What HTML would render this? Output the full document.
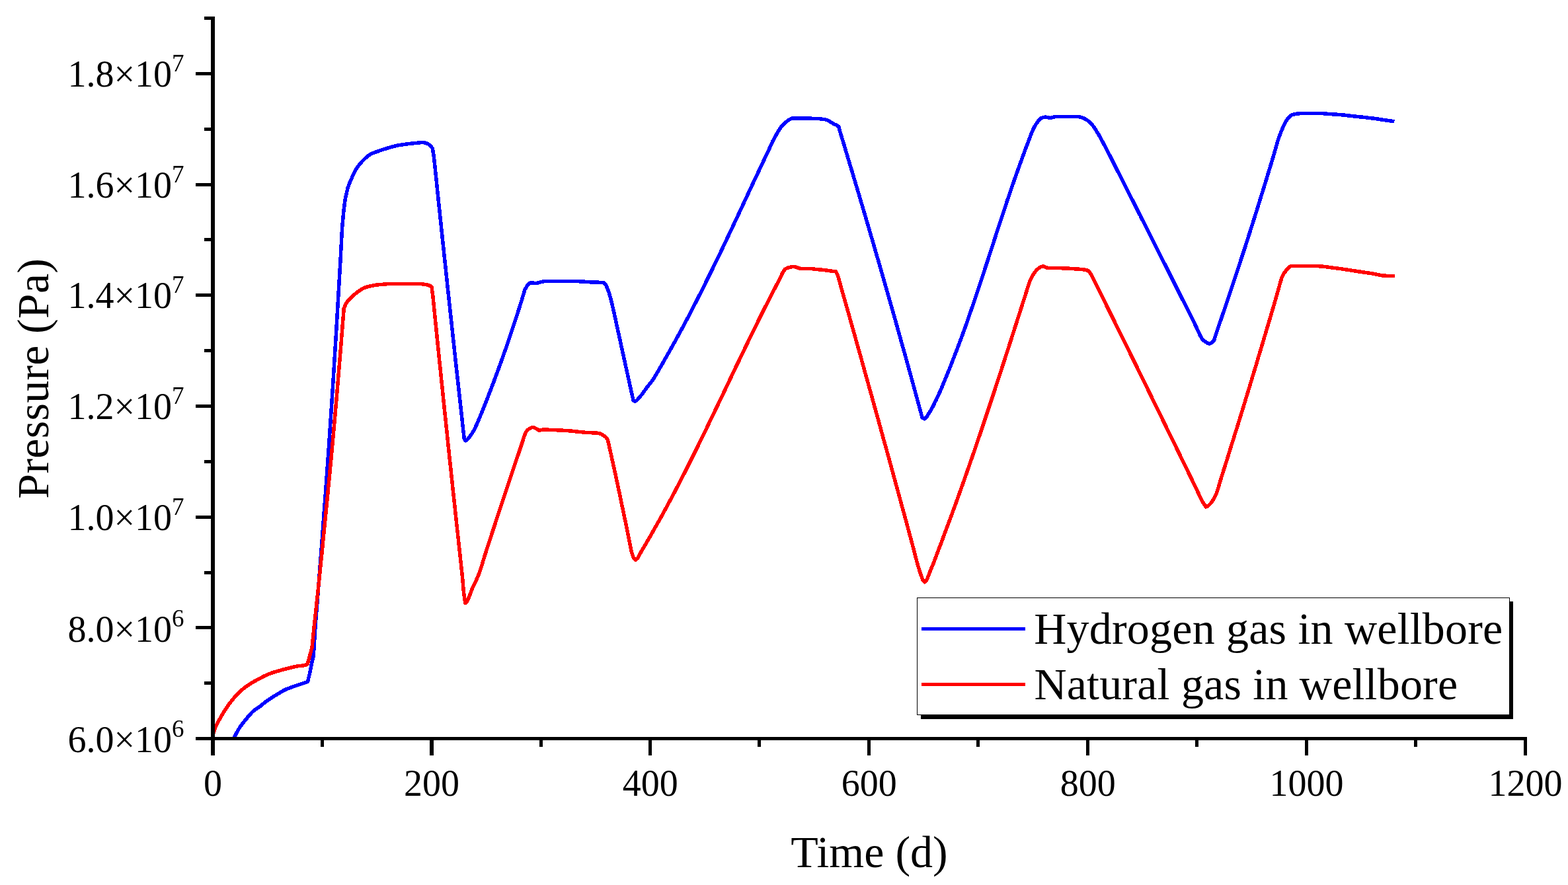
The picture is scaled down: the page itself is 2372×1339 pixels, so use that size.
<!DOCTYPE html>
<html lang="en"><head><meta charset="utf-8"><title>Pressure vs Time</title>
<style>
html,body{margin:0;padding:0;background:#fff;}
body{width:2372px;height:1339px;overflow:hidden;}
svg{display:block;}
text{font-family:"Liberation Serif","Times New Roman",serif;fill:#000;}
.tick{font-size:56px;}
.sup{font-size:37px;}
.title{font-size:68px;}
.leg{font-size:68px;}
</style></head><body>
<svg xmlns="http://www.w3.org/2000/svg" width="2372" height="1339" viewBox="0 0 2372 1339">
<rect x="0" y="0" width="2372" height="1339" fill="#fff"/>
<g fill="none" stroke-width="5.5" stroke-linejoin="round" stroke-linecap="butt" shape-rendering="crispEdges">
<polyline stroke="#0000ff" points="353.3,1119.0 354.8,1115.0 357.7,1109.0 360.6,1103.9 363.5,1099.4 366.8,1094.9 370.0,1090.8 373.3,1086.9 376.5,1083.0 379.8,1079.3 383.0,1076.1 386.2,1073.6 389.5,1071.5 392.7,1069.3 395.9,1066.7 399.2,1064.0 402.4,1061.5 405.6,1059.2 408.9,1057.0 412.1,1054.9 415.3,1052.9 418.6,1051.0 421.8,1049.1 425.0,1047.1 428.3,1045.2 431.5,1043.5 434.7,1042.1 438.0,1040.9 441.2,1039.7 444.4,1038.5 447.7,1037.4 450.9,1036.3 454.1,1035.2 457.4,1034.2 460.6,1033.1 463.1,1032.5 465.5,1031.4 468.4,1019.3 471.3,1004.7 473.7,995.0 474.5,987.7 477.4,942.2 479.5,916.9 480.8,900.0 483.6,864.0 486.4,827.5 489.1,790.4 491.9,752.7 494.7,714.2 497.5,675.0 499.7,641.8 502.0,607.5 504.5,568.0 508.2,509.0 511.7,450.0 515.0,393.6 517.7,343.0 520.0,318.1 522.3,300.9 526.2,283.8 529.2,276.0 532.1,269.5 534.6,263.6 537.1,258.5 539.9,254.0 542.8,250.1 545.6,246.7 548.4,243.6 551.2,240.7 554.0,238.2 557.4,235.4 560.8,233.2 563.5,231.9 566.2,230.8 569.0,229.9 571.7,228.9 574.9,227.8 578.0,226.7 581.2,225.7 584.4,224.7 587.2,223.8 590.0,223.0 592.8,222.2 595.7,221.4 598.5,220.7 601.3,220.1 604.1,219.6 606.9,219.1 609.7,218.7 612.5,218.3 615.3,217.9 618.1,217.6 621.3,217.2 624.5,216.9 627.6,216.6 630.8,216.3 633.9,216.0 637.0,215.7 640.1,215.6 642.6,215.9 645.2,216.8 647.7,218.0 651.0,220.1 654.4,224.7 656.6,239.1 658.8,260.2 661.0,281.3 662.2,293.0 662.9,300.0 666.1,330.0 670.0,367.5 673.5,400.0 677.2,435.0 678.8,450.0 682.5,483.8 686.1,517.5 689.6,549.6 693.1,581.5 696.6,612.8 700.0,643.9 702.3,664.2 704.4,666.7 707.7,664.4 711.0,660.0 714.0,655.8 717.0,650.8 719.5,645.7 722.1,640.0 726.1,630.5 729.2,623.1 732.2,615.5 735.3,607.8 738.3,600.0 741.2,592.5 744.1,585.0 747.5,576.1 750.8,567.0 753.8,559.0 756.7,550.9 759.7,542.8 762.6,534.5 765.6,526.1 768.5,517.5 771.8,507.8 775.1,498.0 778.5,487.8 781.8,477.5 785.2,467.0 787.8,458.6 790.5,450.0 794.1,437.9 798.6,430.4 801.2,428.5 803.7,427.6 806.9,428.1 810.0,428.5 812.8,428.2 815.6,427.5 818.3,426.7 821.1,426.0 823.9,425.7 826.9,425.7 829.9,425.7 832.8,425.7 835.8,425.7 838.8,425.7 841.8,425.7 844.7,425.7 847.7,425.7 850.7,425.7 853.7,425.7 856.6,425.7 859.6,425.7 862.6,425.7 865.6,425.7 868.5,425.7 871.5,425.7 874.5,425.7 877.5,425.8 880.4,425.9 883.4,426.1 886.3,426.4 889.2,426.6 892.2,426.8 895.3,426.9 898.3,427.0 901.4,427.1 904.5,427.2 907.6,427.3 910.6,427.5 913.7,427.8 916.2,430.4 918.8,436.1 921.3,443.0 923.9,452.1 926.6,463.2 930.1,478.7 933.6,494.9 937.1,510.7 940.5,526.5 944.2,543.2 947.9,560.0 950.7,572.6 953.5,585.3 958.0,605.5 960.3,607.4 962.8,606.2 965.4,603.5 967.9,600.5 970.8,597.1 973.6,593.2 976.4,589.2 979.3,585.3 982.0,581.9 984.7,578.6 987.4,575.0 990.4,570.3 993.4,565.2 996.4,560.0 999.2,555.1 1002.1,550.2 1004.9,545.2 1007.8,540.2 1010.6,535.2 1013.5,530.2 1016.3,525.1 1019.2,520.0 1022.6,513.8 1026.1,507.5 1029.1,502.0 1032.1,496.4 1035.1,490.8 1038.1,485.1 1041.1,479.5 1044.1,473.7 1047.1,468.0 1049.9,462.5 1052.8,456.9 1055.6,451.3 1058.5,445.7 1061.4,440.0 1064.2,434.4 1067.0,428.7 1069.8,423.0 1072.6,417.3 1075.5,411.5 1078.3,405.8 1081.1,400.0 1084.1,393.8 1087.1,387.6 1090.2,381.3 1093.2,375.0 1096.4,368.2 1099.7,361.3 1103.0,354.4 1106.2,347.5 1109.5,340.6 1112.6,334.0 1115.7,327.4 1118.8,320.8 1121.9,314.1 1125.0,307.5 1128.2,300.7 1131.4,293.8 1134.6,286.9 1137.8,280.1 1141.0,273.2 1144.3,266.4 1147.4,259.8 1150.5,253.2 1153.6,246.6 1156.7,240.0 1160.2,232.6 1163.3,226.1 1166.3,219.4 1169.3,213.0 1172.4,207.2 1175.2,202.3 1178.0,197.6 1180.8,193.3 1183.6,189.8 1186.6,186.8 1189.5,184.2 1192.5,182.1 1195.5,180.1 1198.4,179.0 1201.6,178.9 1204.8,178.9 1208.0,178.9 1211.0,178.9 1213.9,178.9 1216.9,179.0 1219.9,179.0 1222.8,179.1 1225.8,179.2 1228.8,179.3 1231.7,179.4 1234.7,179.5 1237.4,179.6 1240.2,179.8 1242.9,180.1 1245.6,180.4 1248.1,180.8 1250.6,181.4 1253.7,182.9 1256.8,184.9 1259.2,186.3 1261.5,187.7 1265.0,189.1 1268.6,191.3 1271.4,201.3 1274.1,210.2 1276.8,219.0 1279.4,227.8 1282.1,236.7 1285.3,247.5 1288.6,258.3 1291.8,269.1 1295.1,280.0 1297.8,289.1 1300.5,298.3 1303.2,307.5 1306.5,318.6 1309.8,329.8 1313.1,341.0 1316.4,352.3 1319.7,363.6 1323.0,375.0 1325.9,385.1 1328.9,395.1 1331.8,405.2 1334.7,415.4 1337.6,425.5 1341.1,437.7 1344.6,450.0 1347.9,461.7 1351.3,473.5 1354.6,485.3 1358.0,497.2 1360.8,507.3 1363.6,517.4 1366.4,527.5 1369.3,537.6 1372.1,547.8 1375.0,558.3 1377.9,568.8 1380.8,579.4 1383.7,590.0 1386.3,599.5 1388.9,609.0 1391.5,618.6 1395.2,632.1 1398.4,633.8 1401.8,630.8 1405.1,625.4 1407.9,620.9 1410.8,615.8 1413.6,610.2 1416.5,604.4 1419.3,598.4 1422.7,591.0 1426.0,583.1 1429.3,575.0 1432.1,568.3 1434.9,561.5 1437.7,554.6 1440.6,547.0 1443.6,539.3 1446.6,531.5 1449.6,523.6 1452.6,515.6 1455.6,507.5 1458.6,499.3 1461.6,490.9 1464.6,482.4 1467.5,473.8 1470.5,465.2 1473.4,456.9 1476.2,448.5 1479.0,440.0 1482.0,431.1 1484.9,422.2 1488.0,412.8 1491.1,403.4 1494.2,393.9 1497.2,384.5 1500.3,375.0 1503.7,364.7 1507.0,354.3 1510.4,344.0 1513.7,333.8 1517.1,323.6 1520.5,313.4 1523.8,303.3 1527.2,293.3 1530.1,284.7 1533.1,276.2 1536.0,267.8 1539.0,259.5 1541.9,251.2 1546.0,240.0 1550.4,228.0 1553.1,220.7 1555.9,213.6 1559.6,203.5 1563.4,194.5 1566.5,189.0 1569.6,184.5 1572.1,181.1 1574.6,178.8 1578.2,177.5 1581.7,177.0 1584.8,177.7 1588.0,178.4 1590.5,178.0 1593.1,177.3 1596.7,176.5 1599.8,176.5 1602.9,176.5 1605.9,176.5 1609.0,176.5 1612.1,176.5 1615.2,176.5 1618.3,176.5 1621.4,176.5 1624.4,176.5 1627.5,176.5 1630.6,176.5 1633.9,177.0 1637.3,178.1 1640.6,179.5 1644.0,181.4 1647.3,184.0 1650.7,187.1 1653.5,190.4 1656.3,194.5 1659.1,198.9 1662.1,203.8 1665.0,209.1 1668.0,214.6 1671.0,220.3 1673.9,225.9 1676.8,231.4 1679.7,236.9 1682.5,242.6 1685.4,248.3 1688.3,253.9 1691.1,259.6 1694.1,265.4 1697.0,271.2 1699.9,276.9 1702.9,282.7 1705.8,288.5 1708.8,294.3 1711.7,300.1 1714.9,306.3 1718.0,312.6 1721.2,318.9 1724.4,325.1 1727.5,331.4 1730.7,337.6 1733.9,343.9 1737.0,350.1 1740.2,356.3 1743.3,362.6 1746.5,368.8 1749.6,375.0 1752.7,381.2 1755.9,387.5 1759.0,393.7 1762.2,400.0 1765.2,405.9 1768.1,411.8 1771.1,417.7 1774.1,423.6 1777.0,429.5 1780.0,435.4 1783.2,441.8 1786.4,448.2 1789.7,454.7 1792.9,461.1 1796.1,467.5 1799.5,474.2 1802.8,480.9 1806.2,487.7 1809.5,494.4 1812.6,501.2 1815.7,508.0 1818.8,513.0 1821.8,515.9 1824.8,518.0 1827.3,519.4 1829.8,520.1 1833.2,518.5 1836.6,514.7 1840.9,501.2 1843.6,493.2 1846.3,485.4 1849.0,477.6 1852.3,468.1 1855.5,458.5 1858.8,448.9 1861.4,440.9 1864.1,433.0 1866.8,424.9 1869.4,416.9 1872.2,408.5 1875.0,400.0 1877.9,390.9 1880.9,381.8 1883.9,372.7 1886.8,363.5 1889.8,354.3 1892.7,345.0 1895.7,335.6 1898.7,326.2 1901.7,316.7 1904.6,307.2 1907.6,297.6 1910.6,287.9 1913.6,278.2 1916.6,268.4 1920.0,257.2 1923.4,246.0 1926.8,234.7 1929.4,225.4 1932.1,216.1 1934.8,207.7 1938.2,198.6 1941.7,190.8 1945.1,184.1 1948.4,179.0 1951.6,175.6 1954.8,173.6 1957.7,172.9 1960.5,172.4 1963.4,172.0 1966.3,171.7 1969.1,171.5 1972.0,171.4 1975.0,171.4 1977.9,171.4 1980.8,171.4 1983.8,171.4 1986.8,171.4 1989.7,171.4 1992.6,171.4 1995.6,171.4 1998.5,171.5 2001.4,171.7 2004.2,171.9 2007.1,172.2 2010.0,172.4 2013.0,172.6 2015.9,172.8 2018.8,173.0 2021.8,173.2 2024.8,173.4 2027.7,173.6 2030.7,173.9 2033.8,174.2 2036.8,174.5 2039.8,174.9 2042.9,175.2 2045.9,175.6 2049.0,176.0 2052.0,176.3 2054.9,176.6 2057.9,176.9 2060.8,177.2 2063.7,177.5 2066.6,177.8 2069.6,178.2 2072.5,178.5 2075.3,178.9 2078.2,179.2 2081.0,179.6 2083.8,180.0 2086.6,180.5 2089.4,180.9 2092.3,181.3 2095.1,181.7 2098.0,182.1 2100.8,182.5 2103.7,183.0 2106.5,183.4 2109.4,183.8"/>
<polyline stroke="#ff0000" points="322.0,1112.0 324.7,1103.3 327.9,1096.0 331.2,1089.9 334.4,1084.3 337.6,1078.8 340.9,1073.6 344.1,1068.8 347.3,1064.3 350.6,1060.1 353.8,1056.2 357.0,1052.4 360.3,1048.9 363.5,1045.7 366.8,1043.0 370.0,1040.5 373.3,1038.2 376.5,1036.0 379.8,1033.9 383.0,1031.9 386.2,1030.1 389.5,1028.3 392.7,1026.6 395.9,1024.9 399.2,1023.2 402.4,1021.7 405.6,1020.3 408.9,1019.0 412.1,1017.8 415.3,1016.8 418.6,1015.8 421.8,1014.9 425.0,1014.0 428.3,1013.1 431.5,1012.2 434.7,1011.4 438.0,1010.6 441.2,1009.8 444.4,1009.1 447.7,1008.4 450.9,1007.8 454.1,1007.4 457.4,1007.1 460.6,1006.7 465.0,1005.2 467.9,995.0 472.0,979.3 475.8,942.2 478.1,921.2 480.4,900.0 483.6,869.4 486.8,838.3 489.9,806.7 493.1,774.7 496.3,742.1 499.5,708.9 502.7,675.0 505.7,641.8 508.7,607.5 510.6,584.9 513.4,551.6 516.2,517.5 520.2,466.9 523.3,459.2 526.5,455.0 529.0,452.3 531.5,450.0 534.5,447.2 537.4,444.6 540.3,442.1 543.3,440.0 546.2,438.2 549.2,436.5 552.1,435.1 555.1,434.1 558.2,433.3 561.3,432.6 564.4,432.0 567.5,431.4 570.6,431.0 573.7,430.7 576.8,430.4 580.0,430.2 583.1,429.9 586.2,429.7 589.3,429.5 592.5,429.4 595.6,429.4 598.7,429.4 601.8,429.4 604.9,429.4 608.0,429.4 611.1,429.4 614.2,429.4 617.2,429.4 620.3,429.4 623.4,429.4 626.5,429.4 629.6,429.4 632.7,429.4 635.7,429.5 638.6,429.8 641.5,430.2 644.5,430.7 647.3,431.2 650.2,432.2 653.0,434.1 655.1,450.0 656.4,463.5 659.6,494.8 662.7,525.9 666.2,559.7 669.7,593.3 672.5,620.7 675.4,647.9 678.2,675.0 681.2,703.3 684.2,731.4 687.2,759.3 690.2,787.6 693.3,815.6 696.3,843.6 699.2,870.0 701.5,896.5 703.8,912.5 706.2,910.1 708.6,905.5 711.5,898.3 714.5,890.3 717.6,883.5 720.8,877.1 723.9,870.0 726.7,862.2 729.5,853.3 732.3,844.0 735.1,835.0 738.0,826.2 740.8,817.4 743.7,808.7 746.5,800.0 749.2,791.8 751.8,783.7 754.5,775.6 757.2,767.5 760.4,757.8 763.6,748.2 766.8,738.6 770.0,729.0 772.6,721.1 775.3,713.2 777.9,705.4 779.7,700.0 783.1,690.0 786.5,680.1 790.7,667.5 793.1,659.7 795.5,653.6 798.2,650.5 800.9,648.5 803.5,647.1 806.0,646.4 808.5,647.1 811.1,648.5 815.5,651.3 818.4,650.6 821.2,650.0 824.4,650.0 827.5,650.1 830.6,650.3 833.8,650.4 837.0,650.5 840.1,650.7 843.3,650.8 846.5,651.0 849.6,651.1 852.8,651.3 855.9,651.5 859.1,651.7 862.3,651.9 865.4,652.2 868.6,652.6 871.8,652.9 874.9,653.3 878.1,653.6 881.2,653.9 884.4,654.2 887.5,654.4 890.5,654.5 893.6,654.7 896.7,654.8 899.8,654.9 902.8,655.2 905.9,655.5 908.4,656.2 911.0,657.6 913.5,659.3 916.4,661.4 919.2,665.0 922.7,680.1 926.9,699.1 930.2,714.0 933.4,729.0 935.3,737.9 938.0,750.5 940.6,763.1 943.3,775.9 945.9,788.4 948.5,801.1 951.0,813.8 955.1,834.1 958.1,843.1 961.2,847.3 964.5,844.7 967.7,838.8 971.0,832.8 974.2,827.5 977.5,822.0 980.7,816.4 984.0,810.7 987.2,805.0 990.4,799.4 993.6,793.8 996.8,788.1 1000.0,782.4 1003.2,776.6 1006.4,770.8 1009.2,765.5 1012.1,760.2 1015.0,754.8 1017.9,749.4 1020.8,743.9 1023.6,738.4 1026.5,732.9 1029.3,727.5 1032.1,722.1 1034.9,716.6 1037.7,711.1 1040.5,705.6 1043.3,700.0 1046.4,693.8 1049.5,687.6 1052.6,681.4 1055.7,675.1 1058.7,668.8 1061.8,662.5 1064.9,656.2 1068.0,649.8 1071.1,643.4 1074.1,637.0 1077.2,630.6 1080.3,624.2 1083.4,617.8 1086.5,611.4 1089.6,605.0 1092.7,598.5 1095.8,592.0 1098.8,585.5 1101.9,579.0 1104.9,572.8 1107.8,566.6 1110.8,560.4 1113.7,554.2 1116.7,548.1 1119.7,541.9 1122.5,536.0 1125.4,530.0 1128.2,524.1 1131.1,518.2 1133.9,512.3 1136.8,506.5 1139.7,500.5 1142.6,494.6 1145.5,488.7 1148.4,482.8 1151.3,476.9 1154.3,471.1 1157.5,464.6 1160.8,458.2 1164.0,451.8 1167.3,445.4 1170.6,439.1 1173.8,432.9 1177.1,426.7 1180.3,420.5 1183.9,412.7 1187.5,407.1 1190.9,405.5 1194.4,404.5 1197.2,403.8 1200.0,403.4 1202.8,403.8 1205.5,404.5 1208.0,405.6 1210.6,406.4 1213.4,406.4 1216.3,406.4 1219.1,406.4 1222.0,406.4 1224.8,406.4 1227.9,406.6 1230.9,407.0 1234.0,407.4 1237.0,407.7 1240.0,407.9 1243.1,408.2 1246.1,408.5 1249.7,409.0 1253.2,409.5 1256.8,410.0 1260.4,410.5 1264.4,410.9 1267.3,416.5 1269.3,423.6 1271.3,430.7 1273.9,440.0 1277.0,451.0 1280.1,462.0 1283.3,473.0 1286.5,484.5 1289.7,496.0 1293.0,507.5 1296.1,518.7 1299.2,529.8 1302.4,541.0 1305.5,552.3 1308.7,563.7 1311.9,575.0 1314.6,585.0 1317.4,595.0 1320.2,605.0 1323.4,616.6 1326.7,628.3 1329.9,639.9 1333.1,651.6 1336.3,663.3 1339.6,675.0 1342.6,686.1 1345.7,697.2 1348.7,708.3 1351.8,719.5 1354.8,730.6 1357.6,740.7 1360.4,750.8 1363.1,760.9 1365.9,771.1 1368.7,781.2 1372.0,793.4 1375.3,805.6 1378.6,817.9 1381.9,830.1 1384.8,841.4 1387.7,852.6 1390.6,862.2 1393.3,870.4 1396.0,877.6 1398.7,880.7 1402.0,877.1 1405.3,869.1 1408.6,860.5 1411.9,852.7 1415.1,844.2 1418.4,835.5 1421.7,826.8 1424.5,819.5 1427.2,812.1 1430.0,804.7 1432.8,797.2 1435.6,789.7 1438.3,782.4 1441.0,775.0 1443.7,767.6 1446.5,760.1 1449.2,752.6 1451.9,744.9 1454.7,737.2 1457.4,729.4 1460.2,721.6 1462.9,713.8 1466.3,704.2 1469.6,694.5 1473.0,684.8 1476.4,675.0 1479.3,666.3 1482.3,657.6 1485.2,648.8 1488.2,640.0 1492.5,627.1 1495.4,618.5 1498.2,609.8 1501.1,601.2 1504.0,592.5 1506.8,583.7 1509.7,575.0 1513.0,564.9 1516.3,554.8 1519.6,544.6 1522.9,534.4 1526.2,524.2 1528.9,515.9 1531.6,507.5 1535.2,496.1 1538.9,484.6 1541.6,476.2 1544.3,467.8 1547.0,459.3 1549.7,450.9 1553.2,440.0 1555.5,432.3 1557.8,425.6 1561.2,418.5 1564.6,412.7 1568.0,408.7 1571.4,405.8 1574.9,403.6 1578.3,402.7 1580.9,403.9 1583.6,405.2 1586.5,405.3 1589.4,405.4 1592.2,405.4 1595.1,405.4 1598.0,405.5 1601.2,405.6 1604.3,405.7 1607.5,405.8 1610.6,405.9 1613.8,406.0 1616.7,406.2 1619.7,406.4 1622.6,406.6 1625.4,406.8 1628.3,407.0 1631.1,407.1 1634.0,407.4 1636.8,407.6 1639.8,407.9 1642.7,408.4 1646.8,409.8 1650.9,415.7 1653.5,420.8 1656.2,426.3 1658.9,431.8 1661.7,437.4 1664.4,443.0 1667.2,448.6 1670.0,454.2 1672.8,459.9 1675.5,465.5 1678.3,471.1 1681.5,477.5 1684.7,483.9 1687.8,490.4 1691.0,496.8 1694.2,503.2 1697.1,509.1 1700.0,515.0 1702.9,520.9 1705.8,526.8 1708.7,532.7 1711.6,538.6 1714.4,544.2 1717.1,549.8 1719.9,555.4 1722.6,561.1 1725.4,566.7 1728.2,572.3 1730.9,577.8 1733.6,583.4 1736.3,588.9 1739.0,594.5 1741.7,600.0 1744.6,605.9 1747.5,611.8 1750.4,617.7 1753.3,623.6 1756.2,629.5 1759.0,635.4 1762.3,642.1 1765.6,648.9 1768.9,655.6 1772.2,662.4 1775.5,669.1 1778.8,675.9 1782.1,682.6 1785.4,689.4 1788.7,696.1 1792.0,702.9 1795.2,709.6 1798.5,716.4 1801.8,723.1 1805.1,729.9 1808.3,736.6 1811.2,742.7 1814.1,748.9 1816.9,754.9 1819.8,760.2 1824.2,766.9 1827.0,765.9 1829.8,763.3 1832.6,760.2 1836.0,755.2 1839.4,748.4 1841.9,741.6 1844.4,733.2 1846.9,724.8 1849.5,716.4 1852.2,708.0 1854.8,699.6 1857.5,691.1 1860.2,682.4 1862.9,673.6 1865.7,664.8 1868.4,656.0 1871.2,647.2 1874.1,637.8 1877.0,628.4 1879.9,619.0 1882.8,609.5 1885.7,600.0 1888.9,589.6 1892.0,579.1 1895.2,568.6 1898.2,558.7 1901.2,548.9 1904.1,538.9 1907.1,529.0 1911.3,515.0 1914.6,503.9 1917.9,492.8 1921.0,482.3 1924.1,471.8 1927.2,461.2 1931.2,447.5 1934.5,435.9 1936.9,426.9 1939.3,419.4 1942.4,413.5 1945.5,409.3 1948.0,406.3 1950.6,403.7 1953.1,402.6 1956.2,402.6 1959.2,402.6 1962.3,402.6 1965.3,402.6 1968.4,402.6 1971.4,402.6 1974.5,402.6 1977.6,402.6 1980.6,402.6 1983.7,402.6 1986.7,402.6 1989.8,402.6 1992.7,402.6 1995.5,402.8 1998.4,403.0 2001.3,403.2 2004.2,403.6 2007.0,403.9 2009.9,404.3 2012.8,404.7 2015.7,405.1 2018.5,405.4 2021.4,405.8 2024.4,406.2 2027.5,406.6 2030.5,407.0 2033.6,407.5 2036.6,407.9 2039.6,408.4 2042.7,408.9 2045.7,409.4 2048.8,409.8 2051.8,410.3 2055.0,410.8 2058.1,411.2 2061.3,411.7 2064.4,412.2 2067.6,412.6 2070.8,413.1 2073.9,413.6 2077.1,414.1 2080.1,414.6 2083.0,415.3 2085.9,415.9 2088.9,416.5 2091.9,417.0 2094.8,417.2 2097.8,417.3 2100.8,417.4 2103.9,417.4 2106.9,417.4 2109.9,417.5"/>
</g>
<g fill="#000" shape-rendering="crispEdges">
<rect x="319" y="25" width="6" height="1118"/>
<rect x="296" y="1115" width="2014" height="5"/>
<rect x="296" y="109" width="26" height="5"/>
<rect x="296" y="277" width="26" height="5"/>
<rect x="296" y="444" width="26" height="5"/>
<rect x="296" y="612" width="26" height="5"/>
<rect x="296" y="780" width="26" height="5"/>
<rect x="296" y="947" width="26" height="5"/>
<rect x="309" y="25" width="13" height="5"/>
<rect x="309" y="193" width="13" height="5"/>
<rect x="309" y="360" width="13" height="5"/>
<rect x="309" y="528" width="13" height="5"/>
<rect x="309" y="696" width="13" height="5"/>
<rect x="309" y="864" width="13" height="5"/>
<rect x="309" y="1031" width="13" height="5"/>
<rect x="650" y="1117" width="6" height="26"/>
<rect x="981" y="1117" width="5" height="26"/>
<rect x="1312" y="1117" width="5" height="26"/>
<rect x="1643" y="1117" width="5" height="26"/>
<rect x="1974" y="1117" width="5" height="26"/>
<rect x="2305" y="1117" width="5" height="26"/>
<rect x="485" y="1117" width="5" height="13"/>
<rect x="816" y="1117" width="5" height="13"/>
<rect x="1146" y="1117" width="5" height="13"/>
<rect x="1477" y="1117" width="5" height="13"/>
<rect x="1808" y="1117" width="5" height="13"/>
<rect x="2139" y="1117" width="5" height="13"/>
</g>
<g class="tick">
<text x="102.5" y="130.9">1.8×10<tspan class="sup" dy="-23">7</tspan></text>
<text x="102.5" y="298.6">1.6×10<tspan class="sup" dy="-23">7</tspan></text>
<text x="102.5" y="466.2">1.4×10<tspan class="sup" dy="-23">7</tspan></text>
<text x="102.5" y="633.9">1.2×10<tspan class="sup" dy="-23">7</tspan></text>
<text x="102.5" y="801.6">1.0×10<tspan class="sup" dy="-23">7</tspan></text>
<text x="102.5" y="970.5">8.0×10<tspan class="sup" dy="-23">6</tspan></text>
<text x="102.5" y="1138.2">6.0×10<tspan class="sup" dy="-23">6</tspan></text>
</g>
<g class="tick" text-anchor="middle">
<text x="322.0" y="1203.8">0</text>
<text x="652.9" y="1203.8">200</text>
<text x="983.8" y="1203.8">400</text>
<text x="1314.8" y="1203.8">600</text>
<text x="1645.7" y="1203.8">800</text>
<text x="1976.6" y="1203.8">1000</text>
<text x="2307.5" y="1203.8">1200</text>
</g>
<text class="title" text-anchor="middle" x="1315" y="1311.7">Time (d)</text>
<text class="title" text-anchor="middle" letter-spacing="0.25" transform="translate(72.6 572.7) rotate(-90)">Pressure (Pa)</text>
<g shape-rendering="crispEdges">
<rect x="1393" y="910" width="896" height="178" fill="#000"/>
<rect x="1387.5" y="904.5" width="896" height="177" fill="#fff" stroke="#000" stroke-width="1"/>
<rect x="1394" y="949" width="157" height="5" fill="#0000ff"/>
<rect x="1394" y="1033" width="157" height="5" fill="#ff0000"/>
</g>
<text class="leg" x="1564.3" y="973.9" letter-spacing="0.2">Hydrogen gas in wellbore</text>
<text class="leg" x="1564.4" y="1057.6" letter-spacing="0.2">Natural gas in wellbore</text>
</svg>
</body></html>
